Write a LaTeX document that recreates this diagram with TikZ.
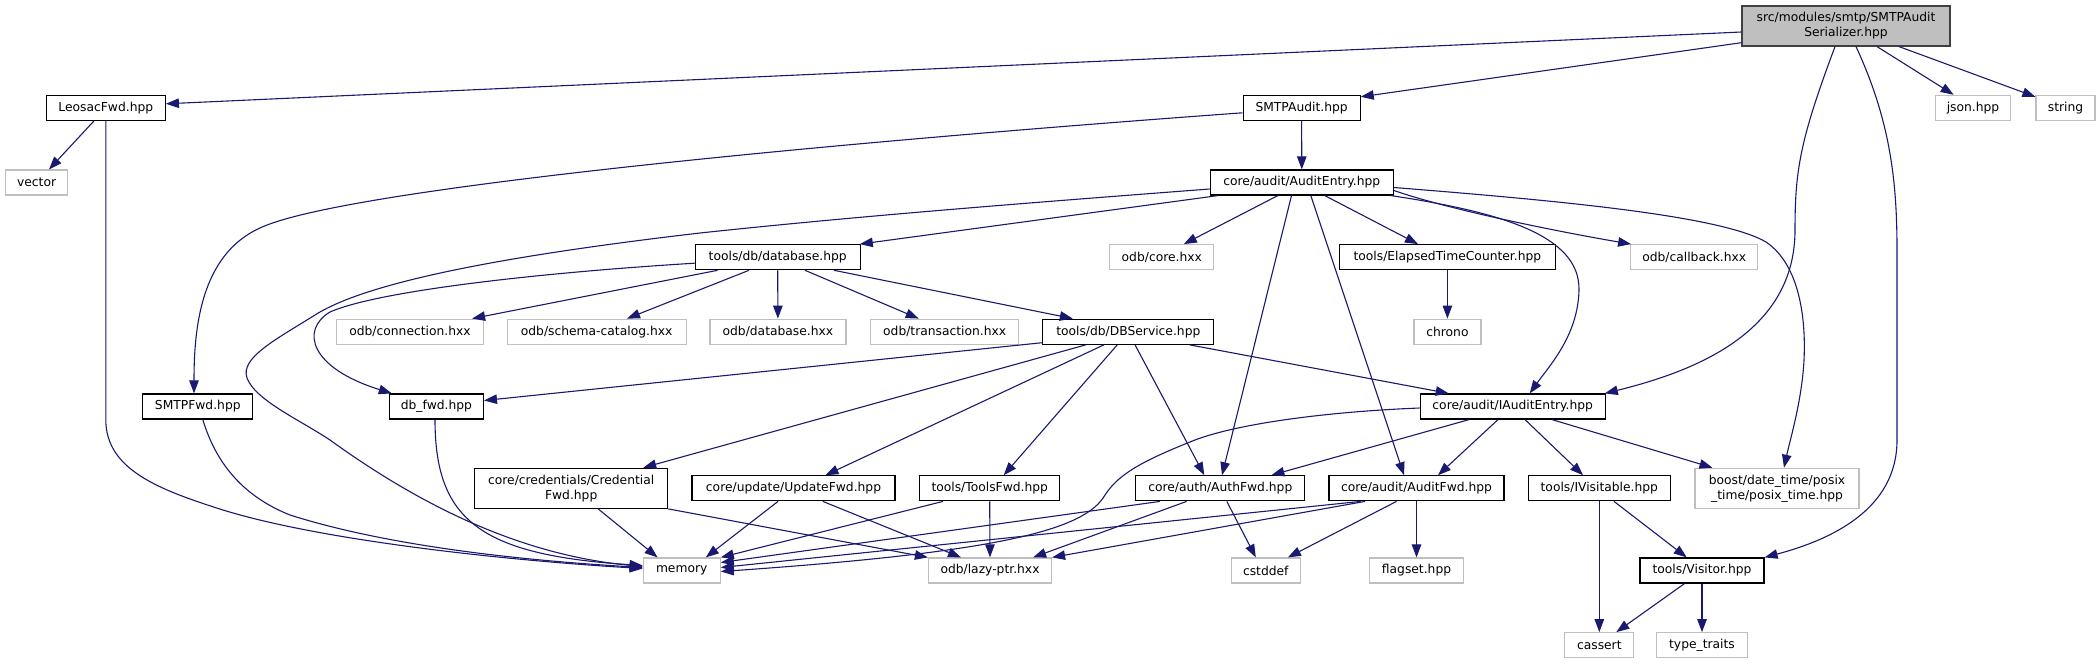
\documentclass[tikz,border=0pt]{standalone}
\usepackage{fontspec}
\setmainfont{DejaVu Sans}
\usetikzlibrary{arrows.meta,calc}
\definecolor{edgeblue}{HTML}{191970}
\definecolor{extgray}{HTML}{BFBFBF}
\definecolor{rootfill}{HTML}{BFBFBF}
\definecolor{rootdraw}{HTML}{404040}
\begin{document}
\begin{tikzpicture}[x=1pt,y=-1pt,
  base/.style={line width=1.2pt, minimum height=25pt, inner sep=0pt, font=\fontsize{12.3}{15}\selectfont, align=center},
  nd/.style={base, draw=black, fill=white},
  ext/.style={base, draw=extgray, fill=white},
  root/.style={base, draw=rootdraw, fill=rootfill},
  lnk/.style={draw=edgeblue, line width=1.1pt, -{Triangle[length=13pt,width=9.5pt]}}]
\useasboundingbox (0,0) rectangle (2099,664);
% row 0
\node[root, minimum width=208pt, minimum height=40pt] (main) at (1846,26) {src/modules/smtp/SMTPAudit\\Serializer.hpp};
% row 1
\node[nd, minimum width=119pt] (leo) at (105.8,107.8) {LeosacFwd.hpp};
\node[nd, minimum width=117pt] (smtpaudit) at (1301.6,107.8) {SMTPAudit.hpp};
\node[ext, minimum width=75pt] (json) at (1973,107.8) {json.hpp};
\node[ext, minimum width=59pt] (strg) at (2065.5,107.8) {string};
% row 2
\node[ext, minimum width=62.5pt] (vector) at (36.6,182.5) {vector};
\node[nd, minimum width=183pt] (auditentry) at (1301.8,182.5) {core/audit/AuditEntry.hpp};
% row 3
\node[nd, minimum width=165pt] (database) at (777.7,257.2) {tools/db/database.hpp};
\node[ext, minimum width=104pt] (odbcore) at (1161.8,257.2) {odb/core.hxx};
\node[nd, minimum width=216pt] (elapsed) at (1447.4,257.2) {tools/ElapsedTimeCounter.hpp};
\node[ext, minimum width=127pt] (callback) at (1694.2,257.2) {odb/callback.hxx};
% row 4
\node[ext, minimum width=147pt] (connection) at (410,331.7) {odb/connection.hxx};
\node[ext, minimum width=179pt] (schema) at (596.6,331.7) {odb/schema-catalog.hxx};
\node[ext, minimum width=136pt] (odbdatabase) at (777.9,331.7) {odb/database.hxx};
\node[ext, minimum width=148pt] (transaction) at (944.7,331.7) {odb/transaction.hxx};
\node[nd, minimum width=171pt] (dbservice) at (1128.3,331.7) {tools/db/DBService.hpp};
\node[ext, minimum width=67pt] (chrono) at (1447.4,331.7) {chrono};
% row 5
\node[nd, minimum width=110pt] (smtpfwd) at (197.8,406.5) {SMTPFwd.hpp};
\node[nd, minimum width=94pt] (dbfwd) at (436.4,406.5) {db\_fwd.hpp};
\node[nd, minimum width=185pt] (iaudit) at (1512.7,406.5) {core/audit/IAuditEntry.hpp};
% row 6
\node[nd, minimum width=193pt, minimum height=40pt] (cred) at (571.2,488.3) {core/credentials/Credential\\Fwd.hpp};
\node[nd, minimum width=203pt] (update) at (793.5,488.3) {core/update/UpdateFwd.hpp};
\node[nd, minimum width=140pt] (toolsfwd) at (989.7,488.3) {tools/ToolsFwd.hpp};
\node[nd, minimum width=169pt] (authfwd) at (1220.3,488.3) {core/auth/AuthFwd.hpp};
\node[nd, minimum width=175pt] (auditfwd) at (1416.5,488.3) {core/audit/AuditFwd.hpp};
\node[nd, minimum width=142pt] (ivisitable) at (1599.3,488.3) {tools/IVisitable.hpp};
\node[ext, minimum width=164pt, minimum height=40pt] (boost) at (1777,488.3) {boost/date\_time/posix\\\_time/posix\_time.hpp};
% row 7
\node[ext, minimum width=77pt] (memory) at (681.7,570.5) {memory};
\node[ext, minimum width=123pt] (lazyptr) at (990,570.5) {odb/lazy-ptr.hxx};
\node[ext, minimum width=69pt] (cstddef) at (1265.8,570.5) {cstddef};
\node[ext, minimum width=94pt] (flagset) at (1416.5,570.5) {flagset.hpp};
\node[nd, minimum width=124pt] (visitor) at (1702,570.5) {tools/Visitor.hpp};
% row 8
\node[ext, minimum width=69pt] (cassert) at (1599.3,645.2) {cassert};
\node[ext, minimum width=91pt] (typetraits) at (1702,645.2) {type\_traits};
% edges from main
\draw[lnk] ($(main.west)+(0,6)$) -- ($(leo.east)+(0,-4)$);
\draw[lnk] ($(main.west)+(0,16.7)$) -- ($(smtpaudit.east)+(0,-11)$);
\draw[lnk] ($(main.south)+(31,0)$) -- ($(json.north)+(-19.4,0)$);
\draw[lnk] ($(main.south)+(53,0)$) -- ($(strg.west)+(0,-11)$);
\draw[lnk] ($(main.south)+(-11,0)$) .. controls (1800,140) and (1795,170) .. (1795,230) .. controls (1795,330) and (1700,370) .. ($(iaudit.north east)+(-1,0)$);
\draw[lnk] ($(main.south)+(10,0)$) .. controls (1890,120) and (1897,180) .. (1897,250) -- (1897,440) .. controls (1897,510) and (1830,540) .. (visitor.north east);
% LeosacFwd
\draw[lnk] ($(leo.south)+(-11.8,0)$) -- ($(vector.north)+(12.4,0)$);
\draw[lnk] (leo.south) -- (105.8,420) .. controls (106,470) and (160,490) .. (223,510) .. controls (320,540) and (500,560) .. ($(memory.west)+(0,-2)$);
% SMTPAudit
\draw[lnk] (smtpaudit.south) -- (auditentry.north);
\draw[lnk] ($(smtpaudit.west)+(0,5)$) .. controls (800,145) and (340,190) .. (260,228) .. controls (200,255) and (194,330) .. ($(smtpfwd.north)+(-3.8,0)$);
% AuditEntry
\draw[lnk] ($(auditentry.west)+(0,6.5)$) .. controls (1000,205) and (850,217) .. (700,233) .. controls (520,254) and (370,280) .. (315,315) .. controls (275,340) and (240,358) .. (247,378) .. controls (255,400) and (300,420) .. (330,440) .. controls (420,505) and (520,555) .. ($(memory.west)+(0,-4)$);
\draw[lnk] ($(auditentry.south)+(-83.8,0)$) -- ($(database.north east)+(-1,0)$);
\draw[lnk] ($(auditentry.south)+(-24,0)$) -- ($(odbcore.north)+(22,0)$);
\draw[lnk] ($(auditentry.south)+(-10.3,0)$) -- ($(authfwd.north)+(1.7,0)$);
\draw[lnk] ($(auditentry.south)+(9,0)$) -- ($(auditfwd.north)+(-12.5,0)$);
\draw[lnk] ($(auditentry.south)+(23,0)$) -- ($(elapsed.north)+(-29.4,0)$);
\draw[lnk] ($(auditentry.east)+(0,8)$) .. controls (1450,210) and (1560,232) .. ($(callback.north west)+(1,0)$);
\draw[lnk] ($(auditentry.south east)+(-3,0)$) .. controls (1500,212) and (1580,235) .. (1579,290) .. controls (1578,335) and (1550,365) .. ($(iaudit.north)+(17,0)$);
\draw[lnk] ($(auditentry.east)+(0,5)$) .. controls (1550,200) and (1720,215) .. (1766,242) .. controls (1800,265) and (1806,320) .. (1804,360) .. controls (1802,400) and (1790,440) .. ($(boost.north)+(7,0)$);
% database
\draw[lnk] ($(database.west)+(0,6)$) .. controls (550,272) and (380,290) .. (330,312) .. controls (300,330) and (310,368) .. ($(dbfwd.north west)+(3,0)$);
\draw[lnk] ($(database.south west)+(23,0)$) -- ($(connection.north east)+(-12,0)$);
\draw[lnk] ($(database.south)+(-28.7,0)$) -- ($(schema.north)+(30.4,0)$);
\draw[lnk] (database.south) -- (odbdatabase.north);
\draw[lnk] ($(database.south)+(27.3,0)$) -- ($(transaction.north)+(-26,0)$);
\draw[lnk] ($(database.south)+(56.3,0)$) -- ($(dbservice.north)+(-55.5,0)$);
% elapsed
\draw[lnk] (elapsed.south) -- (chrono.north);
% DBService
\draw[lnk] ($(dbservice.west)+(0,11)$) -- ($(dbfwd.east)+(0,-6)$);
\draw[lnk] ($(dbservice.south)+(-42.3,0)$) -- ($(cred.north)+(72,0)$);
\draw[lnk] ($(dbservice.south)+(-24.3,0)$) -- ($(update.north)+(32,0)$);
\draw[lnk] ($(dbservice.south)+(-11,0)$) -- ($(toolsfwd.north)+(14,0)$);
\draw[lnk] ($(dbservice.south)+(6.7,0)$) -- ($(authfwd.north)+(-16,0)$);
\draw[lnk] ($(dbservice.south east)+(-25,0)$) -- ($(iaudit.north)+(-64,0)$);
% IAuditEntry
\draw[lnk] ($(iaudit.west)+(0,1.5)$) .. controls (1320,412) and (1230,425) .. (1190,442) .. controls (1140,462) and (1118,475) .. (1105,495) .. controls (1085,530) and (1000,552) .. ($(memory.east)+(0,1)$);
\draw[lnk] ($(iaudit.south)+(-43.7,0)$) -- ($(authfwd.north east)+(-34,0)$);
\draw[lnk] ($(iaudit.south)+(-14.7,0)$) -- ($(auditfwd.north)+(21.5,0)$);
\draw[lnk] ($(iaudit.south)+(12.3,0)$) -- ($(ivisitable.north)+(-16.3,0)$);
\draw[lnk] ($(iaudit.south)+(39.3,0)$) -- ($(boost.north)+(-64.5,0)$);
% SMTPFwd, db_fwd
\draw[lnk] ($(smtpfwd.south)+(5,0)$) .. controls (215,460) and (240,495) .. (290,515) .. controls (400,550) and (550,562) .. ($(memory.west)+(0,-3)$);
\draw[lnk] ($(dbfwd.south)+(-1.4,0)$) .. controls (435,520) and (480,555) .. ($(memory.west)+(0,-5)$);
% row 6 sources
\draw[lnk] ($(cred.south)+(27,0)$) -- ($(memory.north west)+(15,0)$);
\draw[lnk] (cred.south east) -- (lazyptr.north west);
\draw[lnk] ($(update.south)+(-15.5,0)$) -- ($(memory.north east)+(-15,0)$);
\draw[lnk] ($(update.south)+(29.3,0)$) -- ($(lazyptr.north)+(-29,0)$);
\draw[lnk] ($(toolsfwd.south)+(-46.7,0)$) -- (memory.north east);
\draw[lnk] (toolsfwd.south) -- (lazyptr.north);
\draw[lnk] ($(authfwd.south)+(-60.3,0)$) -- ($(memory.east)+(0,-8)$);
\draw[lnk] ($(authfwd.south)+(-33.7,0)$) -- ($(lazyptr.north east)+(-19,0)$);
\draw[lnk] ($(authfwd.south)+(6.5,0)$) -- ($(cstddef.north)+(-10,0)$);
\draw[lnk] ($(auditfwd.south)+(-55.8,0)$) -- ($(memory.east)+(0,-3)$);
\draw[lnk] ($(auditfwd.south)+(-51.5,0)$) -- (lazyptr.north east);
\draw[lnk] ($(auditfwd.south)+(-20,0)$) -- ($(cstddef.north east)+(-13,0)$);
\draw[lnk] (auditfwd.south) -- (flagset.north);
\draw[lnk] (ivisitable.south) -- (cassert.north);
\draw[lnk] ($(ivisitable.south)+(14.7,0)$) -- ($(visitor.north)+(-15.3,0)$);
% Visitor
\draw[lnk] ($(visitor.south)+(-17.5,0)$) -- ($(cassert.north)+(17,0)$);
\draw[lnk] (visitor.south) -- (typetraits.north);
\end{tikzpicture}
\end{document}
